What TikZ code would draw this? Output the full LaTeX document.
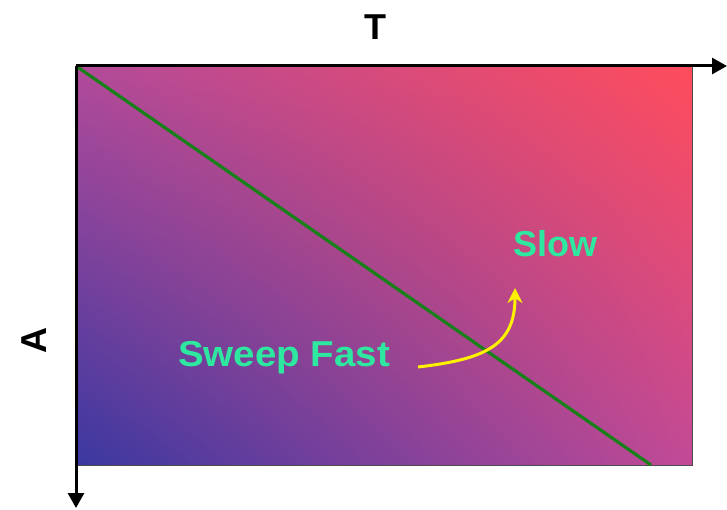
\documentclass[tikz,border=0pt]{standalone}
\usepackage{fontspec}
\setmainfont{Liberation Sans}
\usetikzlibrary{arrows.meta,shadings}
\definecolor{cLL}{RGB}{58,56,160}
\definecolor{cUR}{RGB}{255,76,92}
\definecolor{cUL}{RGB}{178,74,154}
\definecolor{cLR}{RGB}{194,74,150}
\definecolor{mint}{RGB}{46,232,160}
\definecolor{dgreen}{RGB}{24,128,24}
\tikzset{
  axis/.style={line width=3pt,-{Triangle[length=15pt,width=16pt]}},
  lbl/.style={font=\fontsize{36}{40}\selectfont\bfseries,inner sep=0pt},
  mintlbl/.style={lbl,text=mint},
}
\begin{document}
\begin{tikzpicture}[x=1pt,y=1pt]
\useasboundingbox (0,0) rectangle (727,509);
\shade[upper left=cUL,upper right=cUR,lower left=cLL,lower right=cLR] (76,44) rectangle (692,443);
\draw[line width=1pt,black!70] (76,44) rectangle (692,443);
\coordinate (O) at (76,443);
\coordinate (Tend) at (727,443);
\coordinate (Aend) at (76,1);
\coordinate (G) at (651,44);
\draw[dgreen,line width=3.2pt] (O) -- (G);
\draw[axis] (O) -- (Tend);
\draw[axis] (O) -- (Aend);
\node[lbl] (T) at (375,482) {T};
\node[lbl,rotate=90] (A) at (34,169) {A};
\node[mintlbl] (slow) at (555,265) {Slow};
\node[mintlbl] (sweep) at (284,151) {\scalebox{1.07}[1]{Sweep Fast}};
\coordinate (ys) at (418,142);
\coordinate (ye) at (515,221);
\draw[yellow,line width=3pt,-{Stealth[length=15pt,width=15pt]}] (ys) .. controls (488,150) and (515,165) .. (ye);
\end{tikzpicture}
\end{document}
